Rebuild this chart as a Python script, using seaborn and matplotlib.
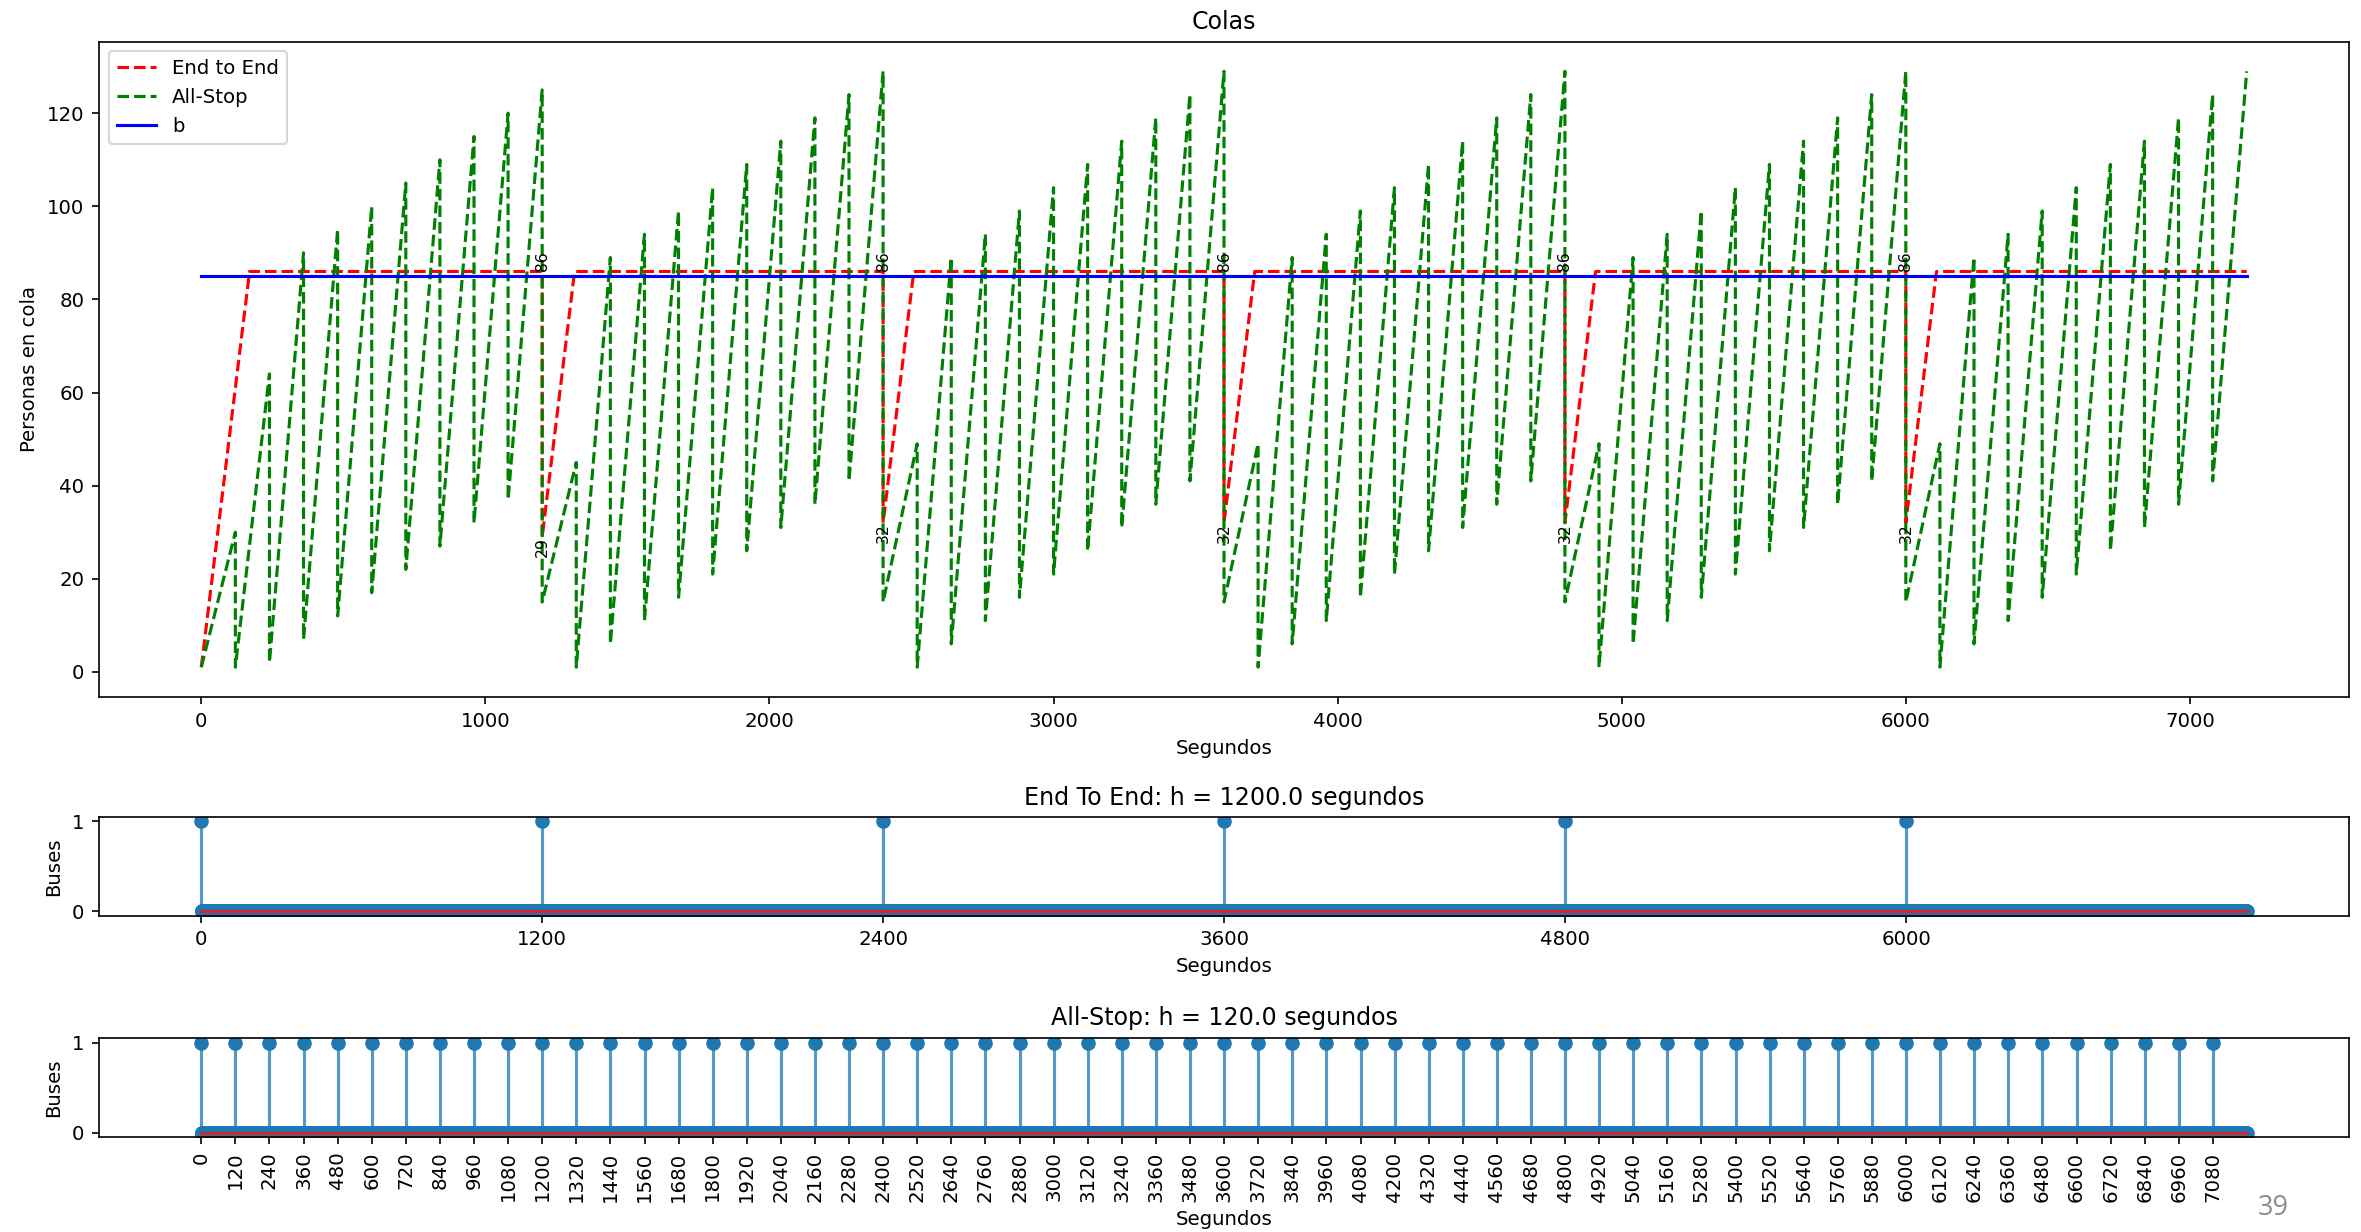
import numpy as np
import matplotlib
matplotlib.use("Agg")
import matplotlib.pyplot as plt
import seaborn as sns

plt.rcParams['font.size'] = 9.5

# ---- data ----
T_END = 7200
h_e2e = 1200.0
h_as = 120.0

# End to End queue (red): vertices of the line
e2e_t = [0, 170, 1200, 1200, 1314, 2400, 2400, 2508, 3600, 3600, 3708,
         4800, 4800, 4908, 6000, 6000, 6108, 7200]
e2e_q = [1, 86, 86, 29, 86, 86, 32, 86, 86, 32, 86, 86, 32, 86, 86, 32, 86, 86]
e2e_drop_t = [1200, 2400, 3600, 4800, 6000]
e2e_high = [86, 86, 86, 86, 86]
e2e_low = [29, 32, 32, 32, 32]

# All-Stop queue (green): value right after each bus, value right before next bus
as_lows = [1, 1, 2, 7, 12, 17, 22, 27, 32, 37,
           15, 1, 6, 11, 16, 21, 26, 31, 36, 41,
           15, 1, 6, 11, 16, 21, 26, 31, 36, 41,
           15, 1, 6, 11, 16, 21, 26, 31, 36, 41,
           15, 1, 6, 11, 16, 21, 26, 31, 36, 41,
           15, 1, 6, 11, 16, 21, 26, 31, 36, 41]
as_peaks = [30, 64, 90, 95, 100, 105, 110, 115, 120, 125,
            45, 89, 94, 99, 104, 109, 114, 119, 124, 129,
            49, 89, 94, 99, 104, 109, 114, 119, 124, 129,
            49, 89, 94, 99, 104, 109, 114, 119, 124, 129,
            49, 89, 94, 99, 104, 109, 114, 119, 124, 129,
            49, 89, 94, 99, 104, 109, 114, 119, 124, 129]

b_value = 85

e2e_departures = [0, 1200, 2400, 3600, 4800, 6000]
as_departures = list(range(0, T_END, 120))

# ---- build series ----
cycle_start = np.arange(len(as_lows)) * h_as
as_t = np.column_stack([cycle_start, cycle_start + h_as]).ravel()
as_q = np.column_stack([as_lows, as_peaks]).ravel()

seconds = np.arange(T_END)
buses_e2e = np.zeros(T_END)
buses_e2e[e2e_departures] = 1
buses_as = np.zeros(T_END)
buses_as[as_departures] = 1

W, H, DPI = 2361, 1232, 150
fig = plt.figure(figsize=(W / DPI, H / DPI), dpi=DPI)

def frac(left, top, right, bottom):
    return [left / W, 1 - bottom / H, (right - left) / W, (bottom - top) / H]

ax1 = fig.add_axes(frac(99, 41.5, 2349, 697))
ax2 = fig.add_axes(frac(99, 817, 2349, 915.5))
ax3 = fig.add_axes(frac(99, 1038, 2349, 1137))

# top panel: queues
sns.lineplot(x=e2e_t, y=e2e_q, ax=ax1, color='r', linestyle='--',
             label='End to End', estimator=None, sort=False)
sns.lineplot(x=as_t, y=as_q, ax=ax1, color='g', linestyle='--',
             label='All-Stop', estimator=None, sort=False)
sns.lineplot(x=[0, T_END], y=[b_value, b_value], ax=ax1, color='b',
             label='b', estimator=None, sort=False)
for t, hi, lo in zip(e2e_drop_t, e2e_high, e2e_low):
    ax1.text(t, hi, str(hi), rotation=90, ha='center', va='bottom', fontsize=7.5)
    ax1.text(t, lo, str(lo), rotation=90, ha='center', va='top', fontsize=7.5)
ax1.set_title('Colas')
ax1.set_xlabel('Segundos')
ax1.set_ylabel('Personas en cola')
ax1.legend(loc='upper left')

# middle panel: End to End departures
_, stems, _ = ax2.stem(seconds, buses_e2e)
stems.set_alpha(0.75)
ax2.set_xticks(e2e_departures)
ax2.set_yticks([0, 1])
ax2.set_title('End To End: h = {} segundos'.format(h_e2e))
ax2.set_xlabel('Segundos')
ax2.set_ylabel('Buses')

# bottom panel: All-Stop departures
_, stems, _ = ax3.stem(seconds, buses_as)
stems.set_alpha(0.75)
ax3.set_xticks(as_departures)
ax3.tick_params(axis='x', labelrotation=90)
ax3.set_yticks([0, 1])
ax3.set_title('All-Stop: h = {} segundos'.format(h_as))
ax3.set_xlabel('Segundos')
ax3.set_ylabel('Buses')

fig.text(2273 / W, 1 - 1208 / H, '39', color='#8c8c8c', fontsize=13,
         ha='center', va='center', family=['Open Sans', 'DejaVu Sans'])

fig.savefig('out.png', dpi=DPI)
